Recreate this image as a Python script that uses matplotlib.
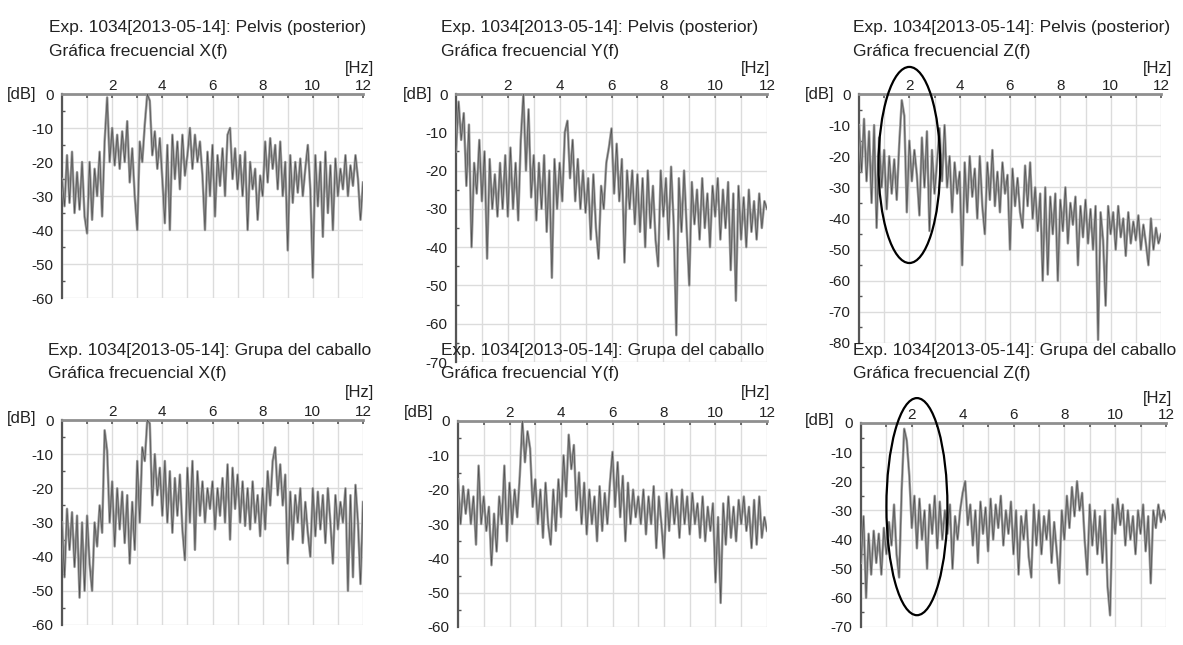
import numpy as np
import matplotlib
matplotlib.use('Agg')
import matplotlib.pyplot as plt
from matplotlib.patches import Ellipse
from matplotlib.ticker import MultipleLocator

# ── Data (dB per 0.1 Hz bin, 0..12 Hz) ───────────────────────────────────────
FREQ_STEP = 0.1

pelvis_x = [
    -25, -33, -18, -32, -17, -35, -23, -34, -20, -36, -41, -20, -37, -22, -30, -17,
    -36, -14, -1, -20, -10, -21, -12, -22, -11, -20, -8, -26, -16, -30, -40, -14,
    -20, -9, 0, -2, -18, -11, -22, -13, -25, -38, -15, -40, -12, -25, -14, -28,
    -12, -24, -18, -10, -22, -12, -20, -14, -24, -40, -17, -30, -15, -36, -18, -27,
    -16, -30, -12, -10, -25, -16, -28, -18, -30, -17, -40, -20, -28, -22, -37, -24,
    -30, -14, -26, -13, -22, -15, -28, -14, -30, -20, -46, -18, -32, -20, -29, -19,
    -30, -22, -15, -28, -54, -18, -33, -20, -42, -17, -35, -21, -40, -19, -30, -22,
    -28, -18, -30, -21, -27, -18, -25, -37, -26,
]
pelvis_y = [
    -15, -2, -12, -5, -24, -8, -40, -18, -26, -12, -28, -15, -43, -17, -30, -21,
    -32, -18, -30, -16, -32, -14, -30, -18, -33, -12, 0, -20, -4, -27, -16, -33,
    -18, -30, -16, -36, -20, -48, -17, -30, -18, -28, -10, -7, -22, -12, -28, -17,
    -30, -20, -31, -22, -38, -21, -35, -43, -24, -30, -18, -14, -9, -26, -13, -28,
    -17, -44, -20, -30, -20, -34, -21, -36, -22, -40, -20, -35, -24, -38, -45, -20,
    -32, -22, -38, -19, -34, -63, -22, -36, -20, -35, -50, -23, -34, -25, -38, -22,
    -35, -26, -40, -24, -32, -22, -38, -25, -35, -23, -46, -26, -54, -24, -38, -27,
    -40, -25, -36, -28, -38, -26, -35, -28, -30,
]
pelvis_z = [
    -10, -25, -8, -28, -12, -35, -10, -43, -14, -30, -18, -37, -20, -32, -21, -34,
    -16, -2, -7, -38, -15, -28, -18, -26, -39, -14, -30, -12, -44, -18, -32, -22,
    -11, -28, -10, -30, -20, -38, -22, -32, -25, -55, -22, -38, -20, -33, -24, -40,
    -20, -36, -45, -22, -34, -18, -36, -25, -38, -22, -32, -26, -50, -24, -36, -27,
    -38, -43, -23, -36, -22, -40, -30, -44, -32, -60, -30, -58, -33, -45, -32, -60,
    -34, -44, -30, -48, -35, -42, -33, -55, -36, -46, -34, -48, -37, -50, -36, -79,
    -38, -47, -68, -36, -45, -38, -50, -36, -46, -40, -52, -38, -48, -41, -47, -39,
    -50, -42, -48, -55, -40, -50, -43, -48, -45,
]
grupa_x = [
    -30, -46, -26, -38, -27, -43, -28, -52, -30, -50, -28, -42, -50, -30, -37, -25,
    -33, -3, -9, -30, -18, -37, -20, -32, -21, -36, -22, -42, -24, -38, -12, -30,
    -8, -12, 0, -1, -25, -10, -22, -14, -28, -12, -30, -15, -33, -17, -28, -16,
    -32, -41, -14, -30, -12, -38, -15, -28, -18, -30, -20, -26, -18, -32, -20, -28,
    -17, -30, -13, -35, -14, -26, -16, -30, -18, -31, -20, -32, -18, -30, -22, -34,
    -20, -32, -15, -25, -12, -8, -22, -13, -25, -16, -42, -21, -35, -22, -30, -20,
    -36, -24, -33, -40, -20, -34, -21, -32, -22, -36, -20, -30, -42, -22, -32, -24,
    -30, -20, -50, -22, -46, -19, -30, -48, -24,
]
grupa_y = [
    -17, -30, -19, -27, -20, -30, -22, -36, -13, -30, -22, -32, -25, -42, -27, -38,
    -22, -30, -13, -35, -18, -30, -20, -28, -16, 0, -12, -3, -8, -25, -17, -30,
    -20, -34, -18, -30, -36, -20, -32, -17, -28, -10, -22, -4, -14, -7, -26, -15,
    -30, -18, -33, -20, -30, -22, -35, -19, -32, -21, -30, -18, -9, -25, -12, -28,
    -16, -35, -18, -30, -20, -28, -22, -30, -20, -33, -22, -30, -19, -37, -22, -30,
    -40, -21, -32, -20, -30, -22, -34, -20, -30, -22, -33, -21, -30, -24, -34, -22,
    -35, -25, -32, -24, -47, -28, -53, -24, -36, -22, -34, -25, -35, -23, -30, -22,
    -32, -25, -37, -23, -36, -22, -34, -28, -32,
]
grupa_z = [
    -48, -32, -60, -38, -52, -37, -48, -38, -52, -36, -45, -34, -42, -28, -45, -53,
    -23, -2, -6, -18, -36, -25, -43, -26, -40, -30, -50, -28, -38, -25, -43, -27,
    -40, -30, -38, -28, -50, -32, -40, -30, -24, -20, -35, -28, -42, -30, -48, -27,
    -38, -29, -44, -26, -40, -28, -36, -25, -42, -30, -38, -27, -45, -30, -52, -32,
    -40, -30, -46, -53, -28, -42, -30, -45, -32, -40, -30, -48, -34, -44, -55, -30,
    -40, -25, -36, -22, -32, -20, -30, -24, -40, -52, -28, -42, -30, -45, -32, -48,
    -30, -56, -66, -28, -38, -26, -35, -28, -42, -30, -40, -32, -45, -30, -38, -28,
    -44, -32, -55, -30, -36, -28, -34, -30, -33,
]

TITLE_1 = ['Exp. 1034[2013-05-14]: Pelvis (posterior)'] * 3 + \
          ['Exp. 1034[2013-05-14]: Grupa del caballo'] * 3
TITLE_2 = ['Gráfica frecuencial X(f)', 'Gráfica frecuencial Y(f)',
           'Gráfica frecuencial Z(f)'] * 2
SERIES  = [pelvis_x, pelvis_y, pelvis_z, grupa_x, grupa_y, grupa_z]
Y_MIN   = [-60, -70, -80, -60, -60, -70]

# ── Layout (pixels: left, right, top, bottom of the plot box) ────────────────
W, H = 1183, 645
BOXES = [
    (62, 363, 94, 298), (456, 767, 94, 362), (859, 1161, 94, 343),
    (62, 363, 420, 625), (458, 767, 421, 627), (861, 1166, 423, 627),
]
# title baselines (line 1 / line 2) and left edge
TITLE_X  = [49, 441, 853, 48, 441, 853]
TITLE_Y  = [(32, 56)] * 3 + [(355, 378)] * 3
HZ_XY    = [(374, 68), (770, 68), (1172, 68), (374, 392), (770, 392), (1172, 398)]
DB_XY    = [(22, 94), (418, 94), (820, 95), (22, 419), (419, 413), (820, 420)]
# ellipse marks: panel index -> (centre Hz, centre dB, width Hz, height dB)
ELLIPSES = {2: (2.0, -22.8, 2.45, 63.0), 5: (2.2, -28.7, 2.4, 74.5)}

plt.rcParams['font.family'] = ['Liberation Sans', 'DejaVu Sans']
plt.rcParams['axes.unicode_minus'] = False

fig = plt.figure(figsize=(W / 100, H / 100), dpi=100)


def px(x, y):
    return x / W, 1 - y / H


for i, vals in enumerate(SERIES):
    l, r, t, b = BOXES[i]
    ax = fig.add_axes([l / W, 1 - b / H, (r - l) / W, (b - t) / H])
    freqs = np.arange(len(vals)) * FREQ_STEP
    ax.plot(freqs, vals, color='#9a9a9a', lw=1.8, zorder=3)
    ax.plot(freqs, vals, color='#1e1e1e', lw=0.5, alpha=0.6, zorder=4)

    ax.set_xlim(0, 12)
    ax.set_ylim(Y_MIN[i], 0)
    ax.xaxis.tick_top()
    ax.set_xticks(range(0, 13))
    ax.set_xticklabels(['' if (k == 0 or k % 2) else str(k) for k in range(13)])
    ax.yaxis.set_major_locator(MultipleLocator(10))
    ax.yaxis.set_minor_locator(MultipleLocator(5))
    ax.tick_params(axis='x', direction='in', length=3, width=1.2, color='#555555',
                   pad=1, labelsize=11, labelcolor='#222222')
    ax.tick_params(axis='y', which='major', direction='in', length=0, pad=6,
                   labelsize=11, labelcolor='#222222')
    ax.tick_params(axis='y', which='minor', direction='in', length=2.5,
                   width=1, color='#555555')
    ax.grid(True, color='#dcdcdc', lw=1)
    ax.set_axisbelow(True)
    for s in ('right', 'bottom'):
        ax.spines[s].set_visible(False)
    ax.spines['top'].set_color('#8f8f8f')
    ax.spines['top'].set_linewidth(2)
    ax.spines['left'].set_color('#555555')
    ax.spines['left'].set_linewidth(1.6)

    if i in ELLIPSES:
        cx, cy, ew, eh = ELLIPSES[i]
        ax.add_patch(Ellipse((cx, cy), ew, eh, fill=False, ec='black',
                             lw=1.6, clip_on=False, zorder=5))

    y1, y2 = TITLE_Y[i]
    fig.text(*px(TITLE_X[i], y1), TITLE_1[i], ha='left', va='baseline',
             fontsize=12.5, color='#222222')
    fig.text(*px(TITLE_X[i], y2), TITLE_2[i], ha='left', va='baseline',
             fontsize=12.5, color='#222222')
    fig.text(*px(*HZ_XY[i]), '[Hz]', ha='right', va='center', fontsize=12,
             color='#222222')
    fig.text(*px(*DB_XY[i]), '[dB]', ha='center', va='center', fontsize=12,
             color='#222222')

fig.savefig('out.png', dpi=100)
